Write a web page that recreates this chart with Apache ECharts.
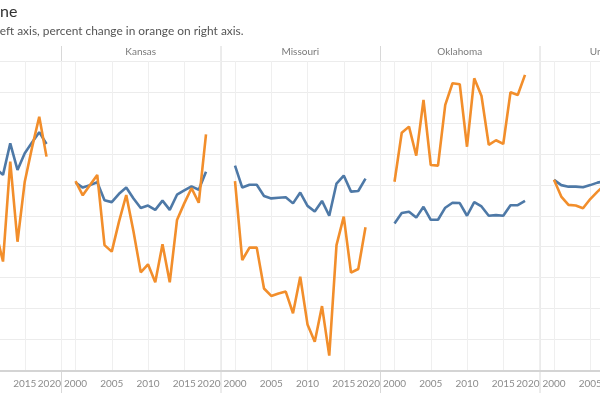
<!DOCTYPE html>
<html>
<head>
<meta charset="utf-8">
<script src="https://cdn.jsdelivr.net/npm/echarts@6/dist/echarts.min.js"></script>
<style>
html, body { margin: 0; padding: 0; background: #fff; }
#chart { width: 600px; height: 400px; }
</style>
</head>
<body>
<div id="chart"></div>
<script>
// years per panel (the first and last panels are cut by the frame)
const years = [2000, 2001, 2002, 2003, 2004, 2005, 2006, 2007, 2008, 2009,
               2010, 2011, 2012, 2013, 2014, 2015, 2016, 2017, 2018];
const firstYears = [2011, 2012, 2013, 2014, 2015, 2016, 2017, 2018];
const usYears = [2000, 2001, 2002, 2003, 2004, 2005, 2006, 2007];
const xTicks = [2000, 2005, 2010, 2015, 2020];

const states = ['', 'Kansas', 'Missouri', 'Oklahoma', 'United States'];

// blue = value (left axis), orange = percent change (right axis), read in grid units
const firstValue  = [6.53, 6.32, 7.34, 6.48, 7.02, 7.37, 7.70, 7.32];
const firstChange = [4.49, 3.52, 6.75, 4.16, 6.10, 7.20, 8.20, 6.91];

const kansasValue  = [6.07, 5.91, 5.99, 6.08, 5.50, 5.44, 5.71, 5.91, 5.56, 5.25,
                      5.33, 5.19, 5.49, 5.19, 5.68, 5.82, 5.95, 5.84, 6.42];
const kansasChange = [6.12, 5.66, 5.99, 6.32, 4.05, 3.84, 4.81, 5.67, 4.49, 3.17,
                      3.43, 2.85, 4.08, 2.85, 4.86, 5.40, 5.89, 5.42, 7.63];

const missouriValue  = [6.62, 5.91, 6.00, 6.00, 5.64, 5.56, 5.58, 5.60, 5.40, 5.75,
                        5.32, 5.14, 5.48, 5.00, 6.04, 6.30, 5.78, 5.80, 6.20];
const missouriChange = [6.12, 3.57, 3.97, 3.97, 2.65, 2.41, 2.49, 2.55, 1.85, 3.03,
                        1.49, 0.93, 2.08, 0.48, 4.05, 4.97, 3.16, 3.28, 4.63];

const oklahomaValue  = [4.75, 5.09, 5.13, 4.94, 5.29, 4.87, 4.87, 5.26, 5.42, 5.41,
                        5.00, 5.44, 5.30, 5.00, 5.02, 5.00, 5.34, 5.34, 5.48];
const oklahomaChange = [6.10, 7.68, 7.88, 6.94, 8.74, 6.64, 6.62, 8.58, 9.28, 9.25,
                        7.23, 9.44, 8.87, 7.29, 7.44, 7.32, 8.99, 8.90, 9.55];

const usValue  = [6.16, 5.99, 5.94, 5.94, 5.92, 5.99, 6.07, 6.12];
const usChange = [6.16, 5.62, 5.35, 5.33, 5.24, 5.54, 5.78, 5.99];

const panelYears = [firstYears, years, years, years, usYears];
const panelValue = [firstValue, kansasValue, missouriValue, oklahomaValue, usValue];
const panelChange = [firstChange, kansasChange, missouriChange, oklahomaChange, usChange];

const BLUE = '#4e79a7';
const ORANGE = '#f28e2b';
const FONT = 'Lato, "Noto Sans", sans-serif';

const panelW = 159.5;
const firstLeft = -98.5;
const plotTop = 61;
const plotH = 309.5;

function pairs(xs, ys) {
    return xs.map(function (x, i) { return [x, ys[i]]; });
}

let chart = echarts.init(document.getElementById('chart'));

let grids = [], xAxes = [], yAxes = [], series = [], graphics = [];

states.forEach(function (name, i) {
    let left = firstLeft + i * panelW;
    grids.push({
        left: left, top: plotTop, width: panelW, height: plotH,
        outerBoundsMode: 'none'
    });
    xAxes.push({
        type: 'value', gridIndex: i, min: 1998, max: 2020,
        axisLine: { show: true, lineStyle: { color: '#d4d4d4', width: 2 } },
        axisTick: { show: false, customValues: xTicks },
        axisLabel: {
            customValues: xTicks, color: '#8c8c8c', fontSize: 10, fontFamily: FONT,
            margin: 8, alignMaxLabel: 'right', showMinLabel: true, showMaxLabel: true,
            hideOverlap: false,
            formatter: function (v) { return String(v); }
        },
        splitLine: { show: true, lineStyle: { color: '#efefef', width: 1 } }
    });
    yAxes.push({
        type: 'value', gridIndex: i, position: 'left', min: 0, max: 10, interval: 1,
        axisLine: { show: false }, axisTick: { show: false }, axisLabel: { show: false },
        splitLine: { show: true, lineStyle: { color: '#ececec', width: 1 } }
    });
    yAxes.push({
        type: 'value', gridIndex: i, position: 'right', min: 0, max: 10, interval: 1,
        axisLine: { show: false }, axisTick: { show: false }, axisLabel: { show: false },
        splitLine: { show: false }
    });
    series.push({
        name: 'Value', type: 'line', xAxisIndex: i, yAxisIndex: 2 * i,
        data: pairs(panelYears[i], panelValue[i]),
        showSymbol: false, symbol: 'none', silent: true,
        lineStyle: { color: BLUE, width: 2.6 }
    });
    series.push({
        name: 'Percent change', type: 'line', xAxisIndex: i, yAxisIndex: 2 * i + 1,
        data: pairs(panelYears[i], panelChange[i]),
        showSymbol: false, symbol: 'none', silent: true,
        lineStyle: { color: ORANGE, width: 2.6 }
    });
    graphics.push({
        type: 'text', x: left + panelW / 2, y: 52,
        style: {
            text: name, fill: '#7a7a7a', font: '10px ' + FONT,
            textAlign: 'center', textVerticalAlign: 'middle'
        }
    });
    if (i > 0) {
        graphics.push({
            type: 'line',
            shape: { x1: left + 0.5, y1: 46, x2: left + 0.5, y2: 393 },
            style: { stroke: '#d8d8d8', lineWidth: 1 }
        });
    }
});

graphics.push({
    type: 'text', x: 0, y: 12,
    style: { text: 'ne', fill: '#333', font: '16px ' + FONT, textVerticalAlign: 'middle' }
});
graphics.push({
    type: 'text', x: -3, y: 31,
    style: {
        text: 'left axis, percent change in orange on right axis.',
        fill: '#555', font: '11.9px ' + FONT, textVerticalAlign: 'middle'
    }
});

chart.setOption({
    animation: false,
    backgroundColor: '#fff',
    grid: grids,
    xAxis: xAxes,
    yAxis: yAxes,
    series: series,
    graphic: graphics
});
</script>
</body>
</html>
